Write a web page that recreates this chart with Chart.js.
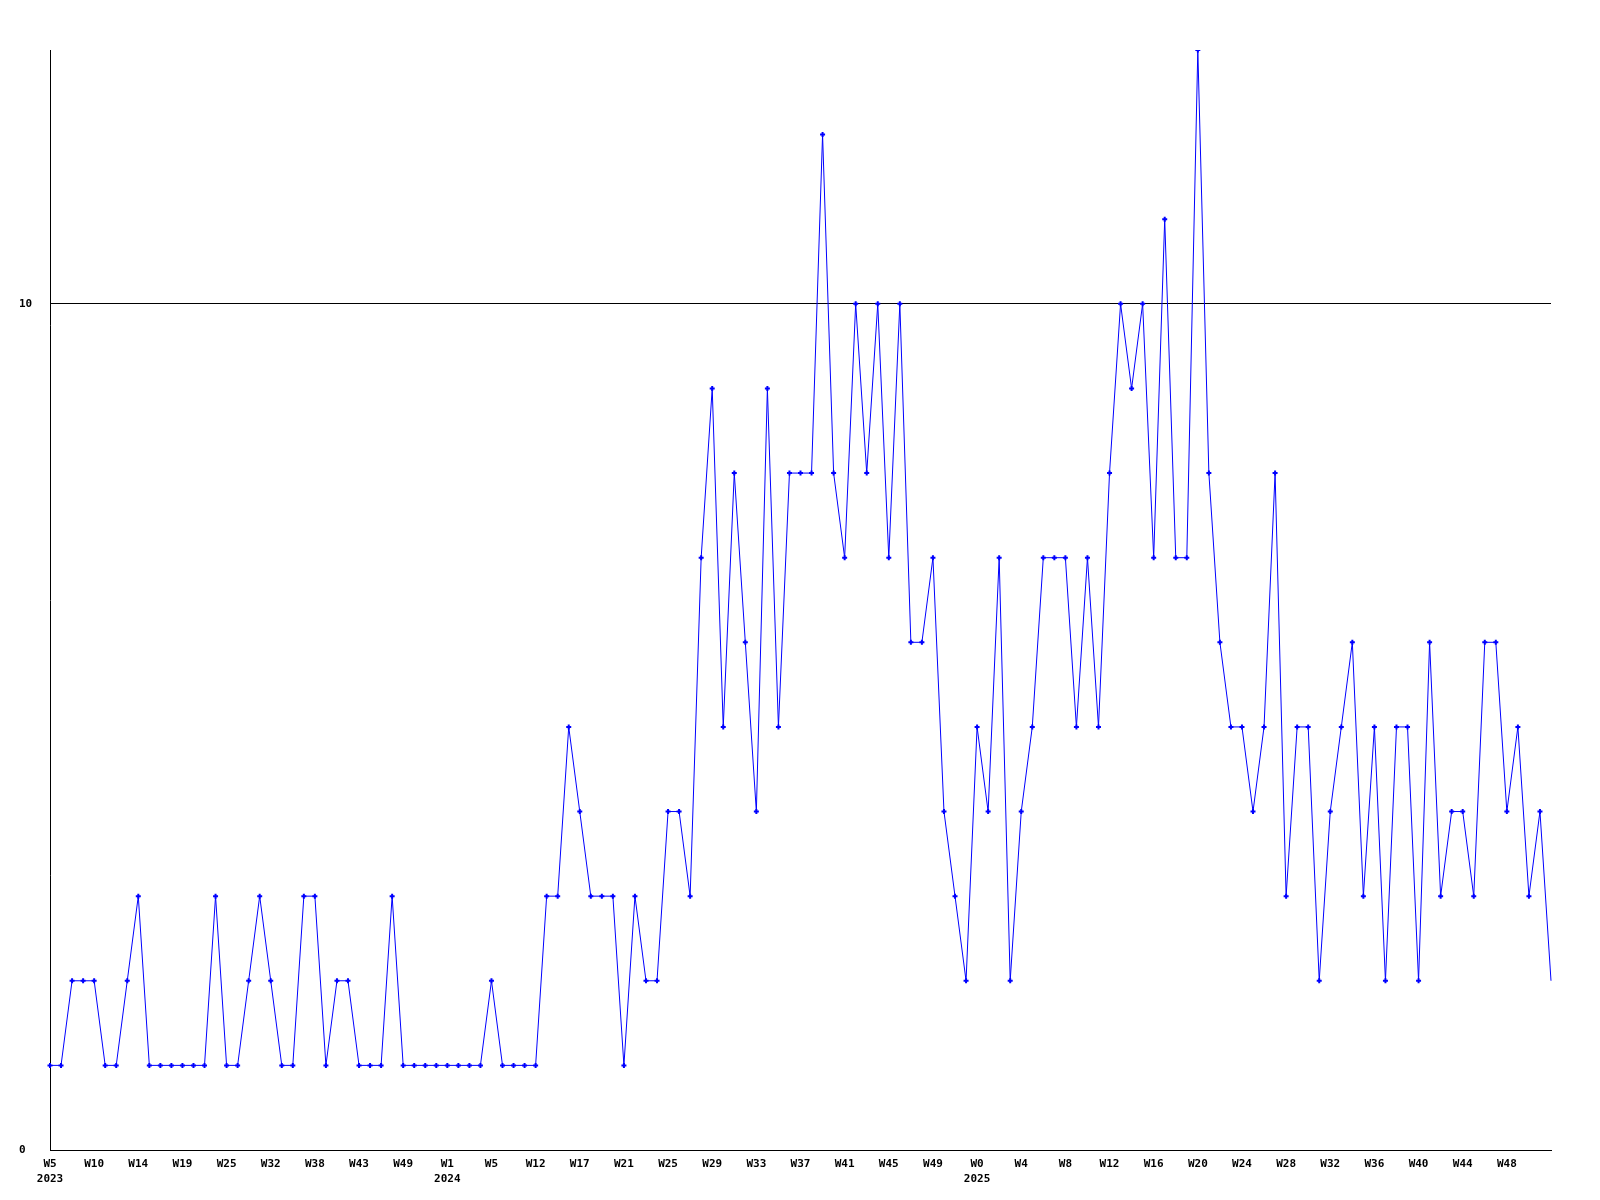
<!DOCTYPE html>
<html>
<head>
<meta charset="utf-8">
<script src="https://cdn.jsdelivr.net/npm/chart.js@4.4.0/dist/chart.umd.min.js"></script>
<style>
  body { margin: 0; background: #fff; }
</style>
</head>
<body>
<canvas id="weekChart" width="1600" height="1200"></canvas>
<script>
// week numbers present in the data, per year
const weeks2023 = [5, 6, 7, 9, 10, 11, 12, 13, 14, 15, 16, 18, 19, 20, 22, 24, 25, 27, 29, 30,
  32, 33, 35, 37, 38, 39, 40, 42, 43, 44, 46, 47, 49, 50, 51, 52];
const weeks2024 = [1, 2, 3, 4, 5, 7, 9, 10, 12, 13, 14, 16, 17, 18, 19, 20, 21, 22, 23, 24,
  25, 26, 27, 28, 29, 30, 31, 32, 33, 34, 35, 36, 37, 38, 39, 40, 41, 42, 43, 44,
  45, 46, 47, 48, 49, 50, 51, 52];
const weeks2025 = [0, 1, 2, 3, 4, 5, 6, 7, 8, 9, 10, 11, 12, 13, 14, 15, 16, 17, 18, 19,
  20, 21, 22, 23, 24, 25, 26, 27, 28, 29, 30, 31, 32, 33, 34, 35, 36, 37, 38, 39,
  40, 41, 42, 43, 44, 45, 46, 47, 48, 49, 50, 51, 52];

const counts = [
  1, 1, 2, 2, 2, 1, 1, 2, 3, 1, 1, 1, 1, 1, 1, 3, 1, 1, 2, 3,
  2, 1, 1, 3, 3, 1, 2, 2, 1, 1, 1, 3, 1, 1, 1, 1, 1, 1, 1, 1,
  2, 1, 1, 1, 1, 3, 3, 5, 4, 3, 3, 3, 1, 3, 2, 2, 4, 4, 3, 7,
  9, 5, 8, 6, 4, 9, 5, 8, 8, 8, 12, 8, 7, 10, 8, 10, 7, 10, 6, 6,
  7, 4, 3, 2, 5, 4, 7, 2, 4, 5, 7, 7, 7, 5, 7, 5, 8, 10, 9, 10,
  7, 11, 7, 7, 13, 8, 6, 5, 5, 4, 5, 8, 3, 5, 5, 2, 4, 5, 6, 3,
  5, 2, 5, 5, 2, 6, 3, 4, 4, 3, 6, 6, 4, 5, 3, 4, 2
];

const yTicks = [0, 10];
const labelEvery = 4;

document.addEventListener('DOMContentLoaded', function() {
    const ctx = document.getElementById('weekChart').getContext('2d');

    const labels = [];
    [[2023, weeks2023], [2024, weeks2024], [2025, weeks2025]].forEach(function(pair) {
        pair[1].forEach(function(w, i) {
            labels.push(i === 0 ? ['W' + w, String(pair[0])] : 'W' + w);
        });
    });
    const lastIndex = labels.length - 1;

    const tickFont = { family: '"DejaVu Sans Mono", monospace', size: 11, weight: 'bold', lineHeight: 1.35 };

    const config = {
        type: 'line',
        data: {
            labels: labels,
            datasets: [{
                data: counts,
                borderColor: '#0000ff',
                backgroundColor: '#0000ff',
                borderWidth: 1,
                tension: 0,
                fill: false,
                pointStyle: 'cross',
                // the last sample sits on the right edge without a marker
                pointRadius: function(c) { return c.dataIndex === lastIndex ? 0 : 2.5; },
                pointBorderWidth: 2,
                pointBorderColor: '#0000ff',
            }]
        },
        options: {
            responsive: false,
            animation: false,
            layout: {
                padding: { left: 19, right: 49, top: 50, bottom: 0 }
            },
            scales: {
                x: {
                    offset: false,
                    grid: { display: false, drawTicks: false },
                    border: { color: '#000', width: 1 },
                    afterFit: function(scale) { scale.height = 50; },
                    ticks: {
                        autoSkip: false,
                        maxRotation: 0,
                        padding: 7,
                        color: '#000',
                        font: tickFont,
                        callback: function(val, i) {
                            if (i === lastIndex) return null;
                            return i % labelEvery === 0 ? this.getLabelForValue(val) : null;
                        }
                    }
                },
                y: {
                    min: 0,
                    max: 13,
                    afterBuildTicks: function(scale) {
                        scale.ticks = yTicks.map(function(v) { return { value: v }; });
                    },
                    afterFit: function(scale) { scale.width = 31; },
                    grid: {
                        drawTicks: false,
                        color: '#000',
                        lineWidth: 1
                    },
                    border: { color: '#000', width: 1 },
                    ticks: {
                        crossAlign: 'far',
                        padding: 0,
                        color: '#000',
                        font: tickFont
                    }
                }
            },
            plugins: {
                legend: { display: false },
                tooltip: { enabled: false }
            }
        }
    };

    const weekChart = new Chart(ctx, config);
});
</script>
</body>
</html>
